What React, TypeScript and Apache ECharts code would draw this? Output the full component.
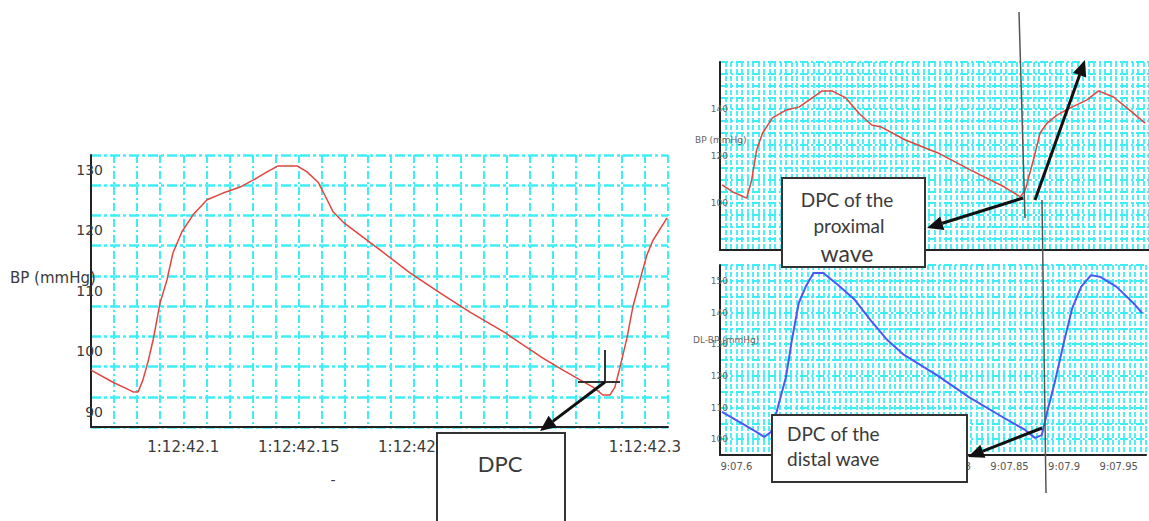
import React, { useEffect, useRef } from "react";
import * as echarts from "echarts";

// ---------- data ----------
// Left chart: time in hundredths of a second after 1:12:42
const leftTime = [6.0, 6.95, 7.56, 7.82, 8.04, 8.25, 8.47, 8.69, 8.77, 8.99, 9.29, 9.55, 9.94, 10.42, 11.03, 11.72, 12.46, 13.19, 13.63, 14.1, 14.93, 15.36, 15.84, 16.23, 16.49, 16.92, 17.65, 18.52, 19.82, 21.12, 22.42, 23.94, 24.28, 25.58, 26.45, 27.19, 27.75, 28.18, 28.49, 28.7, 28.92, 29.22, 29.48, 29.87, 30.09, 30.35, 30.96];
const leftBP = [94.4, 92.4, 91.3, 90.8, 90.8, 92.8, 95.8, 99.4, 101.0, 105.5, 109.3, 113.8, 117.3, 120.1, 122.6, 123.7, 124.7, 126.2, 127.2, 128.2, 128.2, 127.2, 125.5, 122.6, 120.6, 118.9, 116.8, 114.3, 110.5, 107.2, 104.0, 100.6, 99.7, 96.4, 94.4, 92.8, 91.6, 90.3, 90.3, 91.6, 94.9, 99.7, 104.9, 110.5, 113.5, 115.9, 119.6];
const leftXTickValues = [10, 15, 20, 30];
const leftXTickLabels = ["1:12:42.1", "1:12:42.15", "1:12:42.2", "1:12:42.3"];
const leftYTickValues = [90, 100, 110, 120, 130];
const leftYTickLabels = ["90", "100", "110", "120", "130"];

// Right charts: time in seconds after 9:00
const proxTime = [7.5868, 7.5967, 7.6093, 7.6138, 7.6183, 7.6237, 7.6327, 7.6454, 7.6571, 7.6688, 7.6778, 7.6868, 7.6994, 7.7111, 7.7228, 7.7318, 7.7535, 7.7832, 7.8129, 7.8436, 7.858, 7.8625, 7.8706, 7.876, 7.8823, 7.8913, 7.903, 7.9183, 7.9291, 7.9427, 7.9571, 7.9715];
const proxBP = [107.7, 104.7, 102.1, 109.8, 122.6, 129.8, 136.2, 139.6, 140.9, 144.7, 147.7, 147.7, 144.7, 138.3, 133.2, 132.3, 126.8, 121.3, 114.0, 106.8, 102.6, 105.5, 119.6, 129.8, 134.0, 137.4, 140.4, 143.8, 147.7, 145.1, 139.6, 134.0];
const distTime = [7.5868, 7.603, 7.6183, 7.6255, 7.6318, 7.6373, 7.6454, 7.6508, 7.6571, 7.6634, 7.6706, 7.6796, 7.6931, 7.7084, 7.7228, 7.7382, 7.7535, 7.7832, 7.8129, 7.8436, 7.8643, 7.8733, 7.8796, 7.885, 7.8913, 7.9003, 7.9075, 7.9156, 7.9246, 7.9336, 7.9481, 7.9634, 7.9715];
const distBP = [108.6, 105.4, 102.3, 100.7, 102.3, 109.2, 119.6, 131.3, 143.0, 148.1, 152.5, 152.5, 148.7, 144.0, 137.6, 131.3, 126.6, 120.3, 113.3, 107.0, 102.9, 100.4, 101.3, 109.2, 117.7, 131.3, 141.4, 148.1, 151.8, 151.2, 148.1, 143.0, 139.8];
const rightXTickValues = [7.6, 7.8, 7.85, 7.9, 7.95];
const rightXTickLabels = ["9:07.6", "9:07.8", "9:07.85", "9:07.9", "9:07.95"];
const proxYTickValues = [100, 120, 140];
const proxYTickLabels = ["100", "120", "140"];
const distYTickValues = [100, 110, 120, 130, 140, 150];
const distYTickLabels = ["100", "110", "120", "130", "140", "150"];

// ---------- helpers ----------
const lookup = (vals: number[], labels: string[]) => (v: number) => {
  const i = vals.findIndex((t) => Math.abs(t - v) < 1e-6);
  return i >= 0 ? labels[i] : "";
};
const CYAN = "#3ceef6";
const TXT = "#3a3a3a";
const BOXFONT = "Lato, 'Open Sans', sans-serif";

function arrow(x1: number, y1: number, x2: number, y2: number, w = 3, head = 16, half = 7) {
  const dx = x2 - x1, dy = y2 - y1;
  const len = Math.sqrt(dx * dx + dy * dy);
  const ux = dx / len, uy = dy / len;
  const bx = x2 - ux * head, by = y2 - uy * head;
  const px = -uy, py = ux;
  return [
    { type: "line", z: 100, shape: { x1, y1, x2: bx, y2: by }, style: { stroke: "#111", lineWidth: w } },
    { type: "polygon", z: 100, shape: { points: [[x2, y2], [bx + px * half, by + py * half], [bx - px * half, by - py * half]] }, style: { fill: "#111" } },
  ];
}
function txt(text: string, x: number, y: number, size: number, align = "center", family = BOXFONT, fill = TXT) {
  return {
    type: "text", z: 101, x, y,
    style: { text, fill, fontSize: size, fontFamily: family, align, textAlign: align, verticalAlign: "middle", textVerticalAlign: "middle" },
  };
}
function box(x: number, y: number, w: number, h: number) {
  return { type: "rect", z: 99, shape: { x, y, width: w, height: h }, style: { fill: "#fff", stroke: "#333", lineWidth: 2 } };
}

export default function App() {
  const ref = useRef<HTMLDivElement>(null);
  useEffect(() => {
    if (!ref.current) return;
    const chart = echarts.init(ref.current, undefined, { renderer: "svg" });
    const axisLine = { show: true, onZero: false, lineStyle: { color: "#222", width: 2 } };
    const option: any = {
      animation: false,
      backgroundColor: "#fff",
      grid: [
        { left: 91, top: 155, width: 577, height: 272 },
        { left: 720, top: 62, width: 433, height: 188 },
        { left: 720, top: 265, width: 433, height: 190 },
      ],
      xAxis: [
        {
          type: "value", gridIndex: 0, min: 6, max: 31, interval: 1,
          axisLine, axisTick: { show: false },
          axisLabel: { formatter: lookup(leftXTickValues, leftXTickLabels), margin: 12, fontSize: 15, color: TXT, fontFamily: "DejaVu Sans" },
          splitLine: { show: true, lineStyle: { color: CYAN, width: 2, type: [8, 3, 2, 3] } },
        },
        {
          type: "value", gridIndex: 1, min: 7.585, max: 7.975, interval: 0.005,
          axisLine, axisTick: { show: false }, axisLabel: { show: false },
          splitLine: { show: true, lineStyle: { color: CYAN, width: 1.8, type: [5, 2] } },
        },
        {
          type: "value", gridIndex: 2, min: 7.585, max: 7.975, interval: 0.005,
          axisLine, axisTick: { show: false },
          axisLabel: { formatter: lookup(rightXTickValues, rightXTickLabels), margin: 6, fontSize: 10, color: "#555", fontFamily: "DejaVu Sans" },
          splitLine: { show: true, lineStyle: { color: CYAN, width: 1.8, type: [5, 2] } },
        },
      ],
      yAxis: [
        {
          type: "value", gridIndex: 0, min: 85, max: 130, interval: 5,
          axisLine, axisTick: { show: false },
          axisLabel: { formatter: lookup(leftYTickValues, leftYTickLabels), margin: -12, fontSize: 14, color: TXT, fontFamily: "DejaVu Sans", verticalAlign: "top", padding: [8, 0, 0, 0] },
          splitLine: { show: true, lineStyle: { color: CYAN, width: 2.5, type: [10, 3, 3, 3] } },
        },
        {
          type: "value", gridIndex: 1, min: 80, max: 160, interval: 5,
          axisLine, axisTick: { show: false },
          axisLabel: { formatter: lookup(proxYTickValues, proxYTickLabels), margin: -8, fontSize: 9, color: "#666", fontFamily: "DejaVu Sans" },
          splitLine: { show: true, lineStyle: { color: CYAN, width: 2, type: [8, 3, 2, 3] } },
        },
        {
          type: "value", gridIndex: 2, min: 95, max: 155, interval: 5,
          axisLine, axisTick: { show: false },
          axisLabel: { formatter: lookup(distYTickValues, distYTickLabels), margin: -8, fontSize: 9, color: "#666", fontFamily: "DejaVu Sans" },
          splitLine: { show: true, lineStyle: { color: CYAN, width: 2, type: [8, 3, 2, 3] } },
        },
      ],
      series: [
        {
          type: "line", xAxisIndex: 0, yAxisIndex: 0, showSymbol: false,
          data: leftTime.map((t, i) => [t, leftBP[i]]),
          lineStyle: { color: "#e0453f", width: 1.5 },
        },
        {
          type: "line", xAxisIndex: 1, yAxisIndex: 1, showSymbol: false,
          data: proxTime.map((t, i) => [t, proxBP[i]]),
          lineStyle: { color: "#e0453f", width: 1.5 },
        },
        {
          type: "line", xAxisIndex: 2, yAxisIndex: 2, showSymbol: false,
          data: distTime.map((t, i) => [t, distBP[i]]),
          lineStyle: { color: "#4b58f2", width: 2 },
        },
      ],
      graphic: [
        // axis titles
        txt("BP (mmHg)", 10, 278, 15, "left", "DejaVu Sans"),
        txt("-", 333, 480, 14, "center", "DejaVu Sans"),
        txt("BP (mmHg)", 695, 140, 9, "left", "DejaVu Sans", "#666"),
        txt("DL-BP (mmHg)", 693, 340, 9, "left", "DejaVu Sans", "#666"),
        // left DPC crosshair
        { type: "line", z: 100, shape: { x1: 605, y1: 350, x2: 605, y2: 382 }, style: { stroke: "#333", lineWidth: 2 } },
        { type: "line", z: 100, shape: { x1: 578, y1: 382, x2: 620, y2: 382 }, style: { stroke: "#333", lineWidth: 2 } },
        // thin vertical guide lines on the right
        { type: "line", z: 98, shape: { x1: 1019, y1: 12, x2: 1025, y2: 218 }, style: { stroke: "#555", lineWidth: 1.5 } },
        { type: "line", z: 98, shape: { x1: 1042, y1: 200, x2: 1046, y2: 493 }, style: { stroke: "#555", lineWidth: 1.5 } },
        // boxes
        box(437, 433, 128, 100),
        txt("DPC", 500, 463, 22),
        box(782, 178, 143, 89),
        txt("DPC of the", 847, 199, 19),
        txt("proximal", 849, 225, 19),
        txt("wave", 847, 253, 23),
        box(772, 415, 195, 67),
        txt("DPC of the", 787, 433, 19, "left"),
        txt("distal wave", 787, 458, 19, "left"),
        // arrows
        ...arrow(605, 382, 540, 431),
        ...arrow(1023, 198, 927, 228),
        ...arrow(1035, 200, 1085, 60),
        ...arrow(1042, 428, 968, 457),
      ],
    };
    chart.setOption(option);
    return () => chart.dispose();
  }, []);
  return (
    <div
      ref={ref}
      style={{ position: "absolute", left: 0, top: 0, width: 1149, height: 521, background: "#fff" }}
    />
  );
}
